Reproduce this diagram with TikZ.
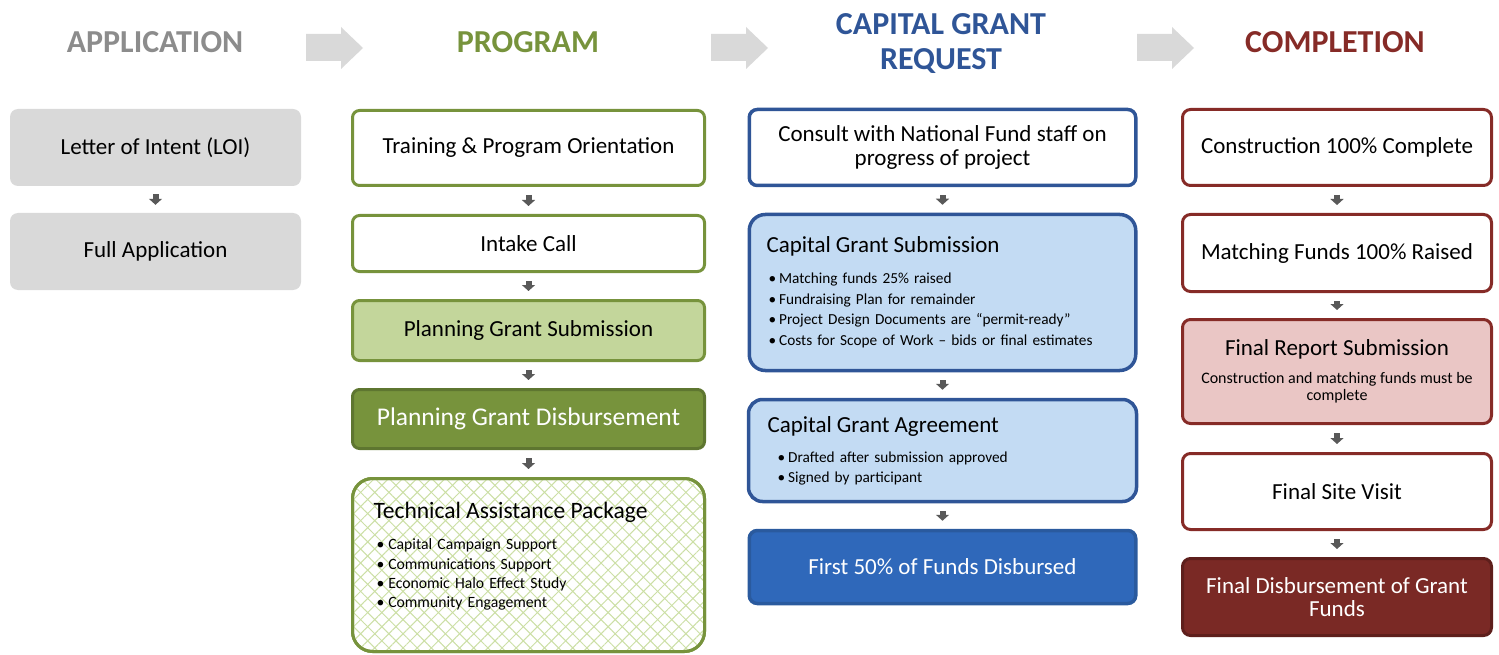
\documentclass[tikz,border=0pt]{standalone}
\usepackage{fontspec}
\setmainfont{Carlito}
\usetikzlibrary{arrows.meta,patterns.meta}
\definecolor{appgray}{HTML}{8C8C8C}
\definecolor{pgreen}{HTML}{77933C}
\definecolor{dgreen}{HTML}{5E7630}
\definecolor{lgreen}{HTML}{C3D69B}
\definecolor{patgreen}{HTML}{CCDFA5}
\definecolor{cblue}{HTML}{2F5597}
\definecolor{lblue}{HTML}{C3DBF3}
\definecolor{mblue}{HTML}{2F68BA}
\definecolor{mbluedark}{HTML}{2A5A9E}
\definecolor{cred}{HTML}{862B27}
\definecolor{lred}{HTML}{EAC6C5}
\definecolor{dred}{HTML}{7A2925}
\definecolor{dreddark}{HTML}{5E1F1C}
\definecolor{boxgray}{HTML}{D9D9D9}
\definecolor{hdrgray}{HTML}{D9D9D9}
\definecolor{arrgray}{HTML}{595959}
\begin{document}
\begin{tikzpicture}[x=1pt,y=-1pt,
 hdr/.style={font=\fontsize{32}{35}\selectfont\bfseries, align=center, inner sep=0pt},
 base/.style={align=center, inner sep=0pt, font=\fontsize{23}{24}\selectfont, text=black},
 gbox/.style={base, fill=boxgray, rounded corners=8pt, minimum width=291pt, minimum height=77pt},
 grbox/.style={base, draw=pgreen, fill=white, line width=3pt, rounded corners=7pt, minimum width=352pt},
 blbox/.style={base, draw=cblue, fill=white, line width=3.5pt, rounded corners=8pt, minimum width=386.5pt},
 rdbox/.style={base, draw=cred, fill=white, line width=3pt, rounded corners=8pt, minimum width=309pt},
 dn/.style={draw=arrgray, line width=6pt, -{Triangle[width=13pt,length=6pt]}, shorten <=8pt, shorten >=8pt},
 harr/.style={fill=hdrgray}]
\useasboundingbox (0,0) rectangle (1499,655);

% headers
\node[hdr, text=appgray] (h1) at (155,42) {APPLICATION};
\node[hdr, text=pgreen] (h2) at (528,42) {PROGRAM};
\node[hdr, text=cblue] (h3) at (941,43.5) {CAPITAL GRANT\\REQUEST};
\node[hdr, text=cred] (h4) at (1335,42) {COMPLETION};

% header arrows
\foreach \dx in {0,405,831}{
  \fill[harr, shift={(\dx,0)}] (306,34) -- (341,34) -- (341,27) -- (363,48) -- (341,69) -- (341,61) -- (306,61) -- cycle;
}

% column 1
\node[gbox] (loi) at (155.5,147.5) {Letter of Intent (LOI)};
\node[gbox] (full) at (155.5,251.5) {Full Application};

% column 2
\node[grbox, minimum height=75pt] (train) at (528.5,148) {Training \& Program Orientation};
\node[grbox, minimum height=56pt] (intake) at (528.5,243.5) {Intake Call};
\node[grbox, fill=lgreen, minimum height=60pt] (pgs) at (528.5,330.5) {Planning Grant Submission};
\node[grbox, draw=dgreen, fill=pgreen, text=white, minimum height=59pt, font=\fontsize{25.5}{26}\selectfont] (pgd) at (528.5,419) {Planning Grant Disbursement};
\node[grbox, rounded corners=20pt, minimum height=173pt, align=left, text width=310pt, inner xsep=21pt,
      font=\fontsize{15.7}{19.4}\selectfont,
      postaction={pattern={Lines[angle=45,distance=10pt,line width=1pt]}, pattern color=patgreen},
      postaction={pattern={Lines[angle=-45,distance=10pt,line width=1pt]}, pattern color=patgreen},
      postaction={draw=pgreen, line width=3pt}] (tap) at (528.5,565)
 {{\fontsize{23.5}{26}\selectfont Technical Assistance Package}\\[12pt]
  \hspace*{3pt}•\hspace{4pt}Capital Campaign Support\\
  \hspace*{3pt}•\hspace{4pt}Communications Support\\
  \hspace*{3pt}•\hspace{4pt}Economic Halo Effect Study\\
  \hspace*{3pt}•\hspace{4pt}Community Engagement\rule[-20pt]{0pt}{0pt}};

% column 3
\node[blbox, minimum height=76pt] (consult) at (942.5,147.5) {Consult with National Fund staff on\\progress of project};
\node[blbox, fill=lblue, rounded corners=16pt, minimum height=156pt, align=left, text width=352pt, inner xsep=17pt,
      font=\fontsize{15.3}{20.7}\selectfont] (cgs) at (942.5,292.5)
 {{\fontsize{23}{25}\selectfont Capital Grant Submission}\\[10pt]
  \hspace*{2pt}•\hspace{3pt}Matching funds 25\% raised\\
  \hspace*{2pt}•\hspace{3pt}Fundraising Plan for remainder\\
  \hspace*{2pt}•\hspace{3pt}Project Design Documents are “permit-ready”\\
  \hspace*{2pt}•\hspace{3pt}Costs for Scope of Work – bids or final estimates};
\node[blbox, fill=lblue, rounded corners=14pt, minimum height=102pt, align=left, text width=350pt, inner xsep=19pt,
      font=\fontsize{15.3}{20}\selectfont] (cga) at (942.5,450.5)
 {{\fontsize{23}{25}\selectfont Capital Grant Agreement}\\[10pt]
  \hspace*{10pt}•\hspace{3pt}Drafted after submission approved\\
  \hspace*{10pt}•\hspace{3pt}Signed by participant};
\node[blbox, draw=mbluedark, fill=mblue, text=white, minimum height=73pt] (first) at (942.5,567) {First 50\% of Funds Disbursed};

% column 4
\node[rdbox, minimum height=76pt] (constr) at (1337,147.5) {Construction 100\% Complete};
\node[rdbox, minimum height=77pt] (match) at (1337,253) {Matching Funds 100\% Raised};
\node[rdbox, fill=lred, minimum height=104pt, font=\fontsize{16}{17}\selectfont] (report) at (1337,371.5)
 {{\fontsize{23}{25}\selectfont Final Report Submission}\\[11pt]
  Construction and matching funds must be\\complete};
\node[rdbox, minimum height=76pt] (site) at (1337,491.5) {Final Site Visit};
\node[rdbox, draw=dreddark, fill=dred, text=white, minimum height=77pt, font=\fontsize{23}{23}\selectfont] (fdisb) at (1337,597) {Final Disbursement of Grant\\Funds};

% connectors
\draw[dn] (loi) -- (full);
\draw[dn] (train) -- (intake);
\draw[dn] (intake) -- (pgs);
\draw[dn] (pgs) -- (pgd);
\draw[dn] (pgd) -- (tap);
\draw[dn] (consult) -- (cgs);
\draw[dn] (cgs) -- (cga);
\draw[dn] (cga) -- (first);
\draw[dn] (constr) -- (match);
\draw[dn] (match) -- (report);
\draw[dn] (report) -- (site);
\draw[dn] (site) -- (fdisb);
\end{tikzpicture}
\end{document}
